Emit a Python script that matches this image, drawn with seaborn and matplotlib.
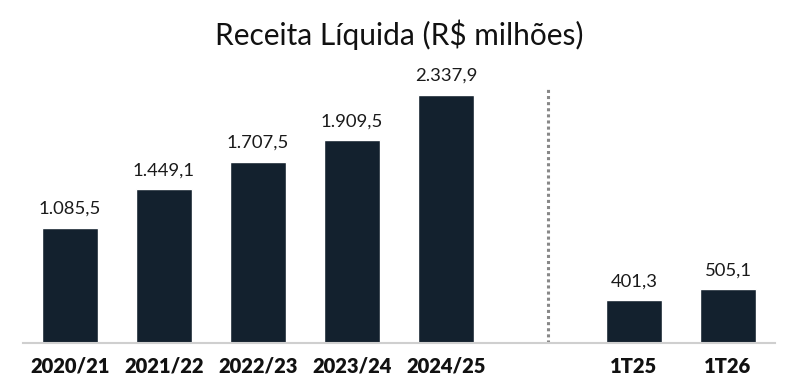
import matplotlib
matplotlib.use("Agg")
import matplotlib.pyplot as plt
import seaborn as sns
import pandas as pd

categories = ["2020/21", "2021/22", "2022/23", "2023/24", "2024/25", "1T25", "1T26"]
values = [1085.5, 1449.1, 1707.5, 1909.5, 2337.9, 401.3, 505.1]
labels = ["1.085,5", "1.449,1", "1.707,5", "1.909,5", "2.337,9", "401,3", "505,1"]

# annual bars at 0..4, quarters after a gap
positions = [0, 1, 2, 3, 4, 6, 7]
df = pd.DataFrame({"pos": positions, "value": values, "cat": categories})

sns.set_style("white")
plt.rcParams["font.family"] = ["Lato", "DejaVu Sans"]

fig = plt.figure(figsize=(7.99, 3.92), dpi=100)
ax = fig.add_axes([23 / 799, 49 / 392, 752 / 799, 283 / 392])

sns.barplot(data=df, x="pos", y="value", native_scale=True, width=0.6,
            color="#13212e", saturation=1, ax=ax)

ax.set_xlim(-0.5, 7.5)
ax.set_ylim(0, 2668)

for p, v, lab in zip(positions, values, labels):
    ax.annotate(lab, (p, v), xytext=(0, 8), textcoords="offset points",
                ha="center", va="bottom", fontsize=13.3, color="#1a1a1a")

ax.set_xticks(positions)
ax.set_xticklabels(categories, fontsize=14.5, fontweight="heavy", color="#111111")
ax.tick_params(axis="x", length=0, pad=10)
ax.set_yticks([])
ax.set_xlabel("")
ax.set_ylabel("")

for s in ["top", "right", "left"]:
    ax.spines[s].set_visible(False)
ax.spines["bottom"].set_color("#cfcfcf")
ax.spines["bottom"].set_linewidth(1.5)

# separator between annual and quarterly figures
ax.plot([5.08, 5.08], [0, 2400], color="#888888", linestyle=(0, (1, 1)), linewidth=2.2)

fig.suptitle("Receita Líquida (R$ milhões)", fontsize=21.5, y=0.95, color="#111111")

fig.savefig("out.png", dpi=100)
